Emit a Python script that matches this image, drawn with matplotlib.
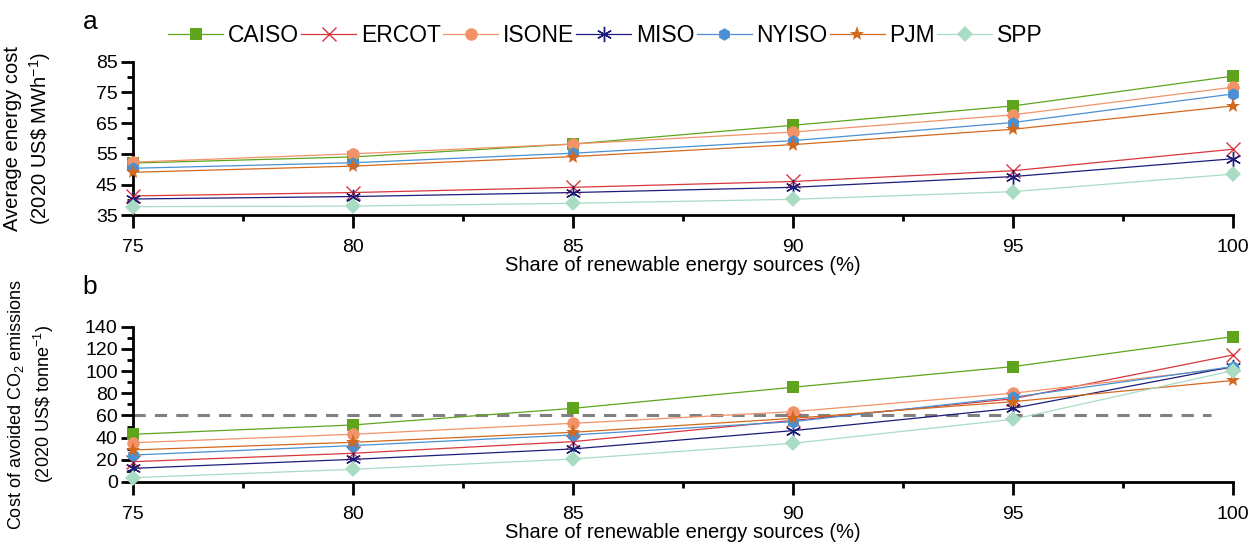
import matplotlib
matplotlib.use('Agg')
import matplotlib.pyplot as plt
from matplotlib.ticker import MultipleLocator

plt.rcParams['font.family'] = ['Liberation Sans', 'DejaVu Sans']
plt.rcParams['mathtext.fontset'] = 'custom'
plt.rcParams['mathtext.rm'] = 'Liberation Sans'
plt.rcParams['mathtext.it'] = 'Liberation Sans:italic'

# Share of renewable energy sources (%)
share = [75, 80, 85, 90, 95, 100]
regions = ['CAISO', 'ERCOT', 'ISONE', 'MISO', 'NYISO', 'PJM', 'SPP']

# Average energy cost (2020 US$ / MWh)
cost = {
    'CAISO': [52.0, 54.0, 58.2, 64.3, 70.6, 80.3],
    'ERCOT': [41.3, 42.4, 44.1, 46.0, 49.5, 56.5],
    'ISONE': [52.3, 55.0, 58.2, 62.1, 67.7, 76.7],
    'MISO':  [40.3, 41.1, 42.4, 44.1, 47.6, 53.4],
    'NYISO': [50.3, 52.1, 55.2, 59.3, 65.2, 74.5],
    'PJM':   [49.0, 51.0, 54.1, 58.0, 63.0, 70.6],
    'SPP':   [37.8, 38.0, 38.9, 40.2, 42.7, 48.4],
}
cost_ticks = [35, 45, 55, 65, 75, 85]

# Cost of avoided CO2 emissions (2020 US$ / tonne)
co2 = {
    'CAISO': [43.0, 51.4, 66.4, 85.4, 104.0, 131.0],
    'ERCOT': [18.3, 25.9, 36.4, 55.5, 75.0, 114.5],
    'ISONE': [35.4, 43.0, 52.9, 63.4, 80.0, 103.0],
    'MISO':  [12.3, 20.4, 29.8, 46.3, 66.4, 104.0],
    'NYISO': [24.3, 32.8, 42.4, 54.4, 76.4, 104.0],
    'PJM':   [28.9, 35.8, 44.8, 57.4, 72.4, 91.5],
    'SPP':   [3.9, 11.4, 20.7, 34.9, 56.5, 100.4],
}
co2_ticks = [0, 20, 40, 60, 80, 100, 120, 140]
ref_price = 60

colors = {'CAISO': '#5ea51c', 'ERCOT': '#d9363e', 'ISONE': '#f29268',
          'MISO': '#1c1c7a', 'NYISO': '#4a90d2', 'PJM': '#d2691e', 'SPP': '#a9dcc3'}
markers = {'CAISO': 's', 'ERCOT': 'x', 'ISONE': 'o', 'MISO': (6, 2, 0),
           'NYISO': 'h', 'PJM': '*', 'SPP': 'D'}
msizes = {'CAISO': 8, 'ERCOT': 10, 'ISONE': 9, 'MISO': 11, 'NYISO': 9, 'PJM': 11, 'SPP': 8}

fig = plt.figure(figsize=(12.51, 5.45), dpi=100)
ax1 = fig.add_axes([0.1063, 0.605, 0.8793, 0.2818])
ax2 = fig.add_axes([0.1063, 0.1156, 0.8793, 0.285])

for ax, data in [(ax1, cost), (ax2, co2)]:
    for r in regions:
        ax.plot(share, data[r], color=colors[r], marker=markers[r], ms=msizes[r],
                lw=0.9, mew=1.0 if r in ('ERCOT', 'MISO') else 0.0,
                mec=colors[r], label=r, clip_on=False, zorder=3)
    ax.set_xlim(75, 100)
    ax.xaxis.set_major_locator(MultipleLocator(5))
    ax.xaxis.set_minor_locator(MultipleLocator(2.5))
    for s in ['top', 'right']:
        ax.spines[s].set_visible(False)
    for s in ['left', 'bottom']:
        ax.spines[s].set_linewidth(2.0)
    ax.tick_params(which='major', length=9, width=2.0, labelsize=14, direction='out')
    ax.tick_params(which='minor', length=4.5, width=2.0, direction='out')
    ax.tick_params(axis='x', which='major', pad=8)
    ax.tick_params(axis='y', which='major', pad=2)
    ax.set_xlabel('Share of renewable energy sources (%)', fontsize=14.5, labelpad=0)

ax1.set_ylim(35, 85)
ax1.set_yticks(cost_ticks)
ax1.yaxis.set_minor_locator(MultipleLocator(5))
ax1.set_ylabel('Average energy cost\n(2020 US\\$ MWh$^{-1}$)', fontsize=14.5, linespacing=1.25)
ax1.yaxis.set_label_coords(-0.073, 0.5)

ax2.set_ylim(0, 140)
ax2.set_yticks(co2_ticks)
ax2.yaxis.set_minor_locator(MultipleLocator(10))
ax2.hlines(ref_price, 75, 99.5, colors='#808080', linestyles=(0, (4, 3)), lw=2.2, zorder=2)
ax2.set_ylabel('Cost of avoided CO$_2$ emissions\n(2020 US\\$ tonne$^{-1}$)', fontsize=13,
               linespacing=1.35)
ax2.yaxis.set_label_coords(-0.07, 0.5)

fig.text(0.072, 0.96, 'a', fontsize=19, va='center', ha='center')
fig.text(0.072, 0.473, 'b', fontsize=19, va='center', ha='center')

handles, labels = ax1.get_legend_handles_labels()
fig.legend(handles, labels, loc='center', bbox_to_anchor=(0.484, 0.934), ncol=7,
           frameon=False, fontsize=16.5, handlelength=2.4, handletextpad=0.2,
           columnspacing=0.1, borderaxespad=0)

plt.savefig('out.png', dpi=100)
